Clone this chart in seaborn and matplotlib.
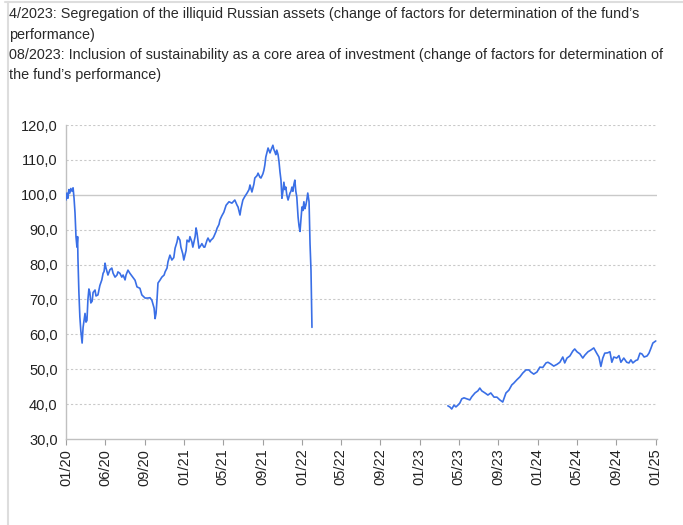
import pandas as pd
import seaborn as sns
import matplotlib.pyplot as plt
from matplotlib.ticker import FuncFormatter, FixedLocator, FixedFormatter
import matplotlib.dates as mdates
from matplotlib.lines import Line2D

# Fund performance before the segregation (2020 - early 2022)
dates_before = [
    "2020-01-01", "2020-01-04", "2020-01-07", "2020-01-10", "2020-01-13", "2020-01-16",
    "2020-01-20", "2020-01-23", "2020-01-26", "2020-01-29", "2020-02-01", "2020-02-04",
    "2020-02-06", "2020-02-07", "2020-02-10", "2020-02-13", "2020-02-16", "2020-02-20",
    "2020-02-23", "2020-02-26", "2020-02-29", "2020-03-03", "2020-03-06", "2020-03-09",
    "2020-03-12", "2020-03-15", "2020-03-18", "2020-03-22", "2020-03-25", "2020-03-31",
    "2020-04-03", "2020-04-09", "2020-04-15", "2020-04-21", "2020-04-25", "2020-04-28",
    "2020-05-01", "2020-05-04", "2020-05-10", "2020-05-16", "2020-05-22", "2020-05-26",
    "2020-06-01", "2020-06-07", "2020-06-10", "2020-06-16", "2020-06-22", "2020-06-26",
    "2020-07-02", "2020-07-05", "2020-07-11", "2020-07-17", "2020-07-26", "2020-08-02",
    "2020-08-08", "2020-08-17", "2020-08-23", "2020-09-02", "2020-09-11", "2020-09-17",
    "2020-09-23", "2020-09-30", "2020-10-03", "2020-10-06", "2020-10-09", "2020-10-12",
    "2020-10-18", "2020-10-24", "2020-10-31", "2020-11-03", "2020-11-09", "2020-11-12",
    "2020-11-18", "2020-11-24", "2020-11-30", "2020-12-04", "2020-12-10", "2020-12-13",
    "2020-12-19", "2020-12-22", "2020-12-28", "2020-12-31", "2021-01-07", "2021-01-10",
    "2021-01-16", "2021-01-19", "2021-01-25", "2021-01-28", "2021-02-04", "2021-02-07",
    "2021-02-10", "2021-02-16", "2021-02-22", "2021-02-25", "2021-03-03", "2021-03-06",
    "2021-03-13", "2021-03-16", "2021-03-22", "2021-03-25", "2021-03-31", "2021-04-03",
    "2021-04-10", "2021-04-13", "2021-04-19", "2021-04-22", "2021-04-28", "2021-05-04",
    "2021-05-11", "2021-05-20", "2021-05-29", "2021-06-07", "2021-06-14", "2021-06-17",
    "2021-06-23", "2021-06-26", "2021-07-02", "2021-07-08", "2021-07-15", "2021-07-21",
    "2021-07-24", "2021-07-30", "2021-08-05", "2021-08-08", "2021-08-15", "2021-08-18",
    "2021-08-24", "2021-08-27", "2021-09-02", "2021-09-05", "2021-09-08", "2021-09-11",
    "2021-09-18", "2021-09-24", "2021-09-27", "2021-09-30", "2021-10-03", "2021-10-06",
    "2021-10-09", "2021-10-12", "2021-10-15", "2021-10-19", "2021-10-22", "2021-10-25",
    "2021-10-28", "2021-10-31", "2021-11-03", "2021-11-06", "2021-11-09", "2021-11-12",
    "2021-11-15", "2021-11-19", "2021-11-22", "2021-11-25", "2021-11-28", "2021-12-01",
    "2021-12-04", "2021-12-07", "2021-12-10", "2021-12-13", "2021-12-16", "2021-12-20",
    "2021-12-23", "2021-12-26", "2021-12-29", "2022-01-01", "2022-01-04", "2022-01-07",
    "2022-01-10", "2022-01-13", "2022-01-16", "2022-01-19", "2022-01-23", "2022-01-26",
    "2022-01-29", "2022-02-01",
]
values_before = [
    98.5, 100.5, 99.0, 101.5, 100.5, 101.8,
    101.0, 102.0, 99.0, 94.8, 88.0, 85.0,
    88.0, 82.0, 72.0, 65.0, 61.0, 57.5,
    62.0, 64.0, 66.0, 63.5, 64.0, 70.0,
    73.0, 72.0, 69.0, 69.5, 72.0, 72.7,
    71.0, 71.3, 74.0, 75.6, 77.5, 78.0,
    80.4, 79.0, 77.0, 78.5, 79.0, 77.5,
    76.4, 77.0, 77.9, 77.5, 76.4, 77.0,
    75.6, 77.0, 78.4, 77.5, 76.4, 75.5,
    73.6, 73.2, 71.3, 70.4, 70.4, 70.5,
    69.8, 67.5, 64.5, 66.0, 70.0, 74.7,
    75.5, 76.4, 77.0, 77.9, 79.0, 80.8,
    82.7, 81.3, 82.0, 84.7, 86.5, 88.0,
    87.0, 85.0, 83.0, 81.3, 84.0, 87.0,
    86.5, 88.0, 86.5, 85.0, 88.0, 90.5,
    89.0, 84.7, 85.5, 86.0, 85.0, 85.0,
    87.0, 87.6, 86.5, 87.0, 87.5, 88.0,
    89.5, 90.4, 91.5, 92.8, 94.0, 95.0,
    97.0, 98.0, 97.6, 98.5, 97.0, 96.5,
    94.2, 96.0, 98.5, 99.5, 100.5, 101.5,
    102.8, 100.8, 103.0, 104.8, 105.5, 106.2,
    105.0, 104.8, 106.0, 107.0, 108.5, 110.8,
    113.4, 112.0, 112.8, 113.5, 114.2, 113.0,
    112.3, 111.5, 112.8, 111.5, 109.4, 106.5,
    104.2, 99.0, 101.0, 103.6, 101.5, 102.2,
    100.0, 98.5, 99.5, 100.5, 101.0, 102.2,
    101.0, 103.0, 104.2, 101.0, 99.4, 93.6,
    91.0, 89.5, 93.0, 96.5, 95.5, 98.0,
    96.0, 97.0, 98.5, 100.5, 98.0, 86.0,
    78.4, 62.0,
]

# Fund performance after the segregation (spring 2023 - 2025)
dates_after = [
    "2023-03-29", "2023-04-04", "2023-04-10", "2023-04-17", "2023-04-23", "2023-04-29",
    "2023-05-05", "2023-05-11", "2023-05-18", "2023-05-27", "2023-06-05", "2023-06-11",
    "2023-06-21", "2023-06-30", "2023-07-06", "2023-07-12", "2023-07-22", "2023-07-31",
    "2023-08-09", "2023-08-19", "2023-08-28", "2023-09-06", "2023-09-15", "2023-09-25",
    "2023-10-04", "2023-10-13", "2023-10-19", "2023-10-29", "2023-11-07", "2023-11-16",
    "2023-11-26", "2023-12-05", "2023-12-11", "2023-12-20", "2023-12-30", "2024-01-08",
    "2024-01-17", "2024-01-27", "2024-02-02", "2024-02-11", "2024-02-20", "2024-03-01",
    "2024-03-10", "2024-03-19", "2024-03-25", "2024-04-01", "2024-04-10", "2024-04-19",
    "2024-04-25", "2024-05-02", "2024-05-11", "2024-05-20", "2024-05-26", "2024-06-05",
    "2024-06-14", "2024-06-23", "2024-07-02", "2024-07-09", "2024-07-15", "2024-07-21",
    "2024-07-27", "2024-08-05", "2024-08-12", "2024-08-18", "2024-08-24", "2024-09-02",
    "2024-09-09", "2024-09-15", "2024-09-24", "2024-10-03", "2024-10-10", "2024-10-16",
    "2024-10-22", "2024-10-31", "2024-11-06", "2024-11-13", "2024-11-19", "2024-11-26",
    "2024-12-05", "2024-12-11", "2024-12-17", "2024-12-23", "2025-01-01",
]
values_after = [
    39.5, 39.2, 38.6, 39.7, 39.2, 39.7,
    40.3, 41.5, 41.8, 41.5, 41.2, 42.1,
    43.2, 43.8, 44.6, 43.8, 43.2, 42.6,
    43.2, 42.0, 42.0, 41.2, 40.6, 43.2,
    44.0, 45.5, 46.0, 47.0, 47.8, 48.9,
    49.8, 49.8, 49.2, 48.6, 49.2, 50.6,
    50.5, 51.8, 52.0, 51.5, 50.9, 51.4,
    52.0, 53.5, 51.8, 53.2, 53.8, 55.2,
    55.8, 55.0, 54.4, 53.2, 54.0, 55.0,
    55.5, 56.1, 54.6, 53.5, 50.8, 53.2,
    54.6, 54.7, 55.0, 52.0, 53.5, 53.2,
    53.9, 52.0, 53.2, 52.0, 51.8, 52.7,
    51.8, 52.5, 52.7, 54.6, 54.4, 53.5,
    53.8, 54.6, 56.0, 57.5, 58.1,
]

note_lines = [
    "4/2023: Segregation of the illiquid Russian assets (change of factors for determination of the fund\u2019s",
    "performance)",
    "08/2023: Inclusion of sustainability as a core area of investment (change of factors for determination of",
    "the fund\u2019s performance)",
]

y_ticks = [30, 40, 50, 60, 70, 80, 90, 100, 110, 120]

# x ticks every 4 months, labels as printed on the original chart
x_tick_dates = pd.date_range("2020-01-01", "2025-01-01", freq="4MS")
x_tick_labels = ["01/20", "06/20", "09/20", "01/21", "05/21", "09/21", "01/22", "05/22",
                 "09/22", "01/23", "05/23", "09/23", "01/24", "05/24", "09/24", "01/25"]

df = pd.concat([
    pd.DataFrame({"date": pd.to_datetime(dates_before), "value": values_before, "segment": 0}),
    pd.DataFrame({"date": pd.to_datetime(dates_after), "value": values_after, "segment": 1}),
])

sns.set_style("white")
plt.rcParams["font.family"] = ["Liberation Sans", "DejaVu Sans"]

fig = plt.figure(figsize=(6.83, 5.25), dpi=100)
ax = fig.add_axes([0.0966, 0.1638, 0.8654, 0.5981])

grid_col = "#c9c9c9"
for v in y_ticks[1:]:
    if v == 100:
        ax.axhline(v, color=grid_col, lw=1.0, zorder=1)
    else:
        ax.axhline(v, color=grid_col, lw=0.8, ls=(0, (2, 2)), zorder=1)

sns.lineplot(data=df, x="date", y="value", units="segment", estimator=None,
             color="#3a6fe6", lw=1.2, ax=ax, zorder=3)

ax.set_ylim(30, 120)
ax.set_xlim(pd.Timestamp("2020-01-01"), pd.Timestamp("2025-01-05"))
ax.set_yticks(y_ticks)
ax.yaxis.set_major_formatter(FuncFormatter(lambda v, p: f"{v:.1f}".replace(".", ",")))

ax.xaxis.set_major_locator(FixedLocator(mdates.date2num(x_tick_dates)))
ax.xaxis.set_major_formatter(FixedFormatter(x_tick_labels))
for lab in ax.get_xticklabels():
    lab.set_rotation(90)

ax.set_xlabel("")
ax.set_ylabel("")
for s in ["top", "right"]:
    ax.spines[s].set_visible(False)
for s in ["left", "bottom"]:
    ax.spines[s].set_color("#c0c0c0")
    ax.spines[s].set_linewidth(1.0)

ax.tick_params(axis="x", which="major", bottom=True, length=4, width=0.8,
               color="#a0a0a0", labelsize=10.5, labelcolor="#222222", pad=3)
ax.tick_params(axis="y", left=False, length=0, labelsize=10.5, labelcolor="#222222", pad=6)

# notes above the chart
for i, line in enumerate(note_lines):
    fig.text(9 / 683, 1 - (14 + i * 20.5) / 525, line, fontsize=10.4,
             color="#2a2a2a", va="center", ha="left")

# light frame around the panel
fig.add_artist(Line2D([8 / 683, 8 / 683], [0, 1 - 2 / 525], color="#dddddd", lw=1.5))
fig.add_artist(Line2D([5 / 683, 1], [1 - 2 / 525, 1 - 2 / 525], color="#dddddd", lw=1.5))

fig.savefig("out.png", dpi=100)
